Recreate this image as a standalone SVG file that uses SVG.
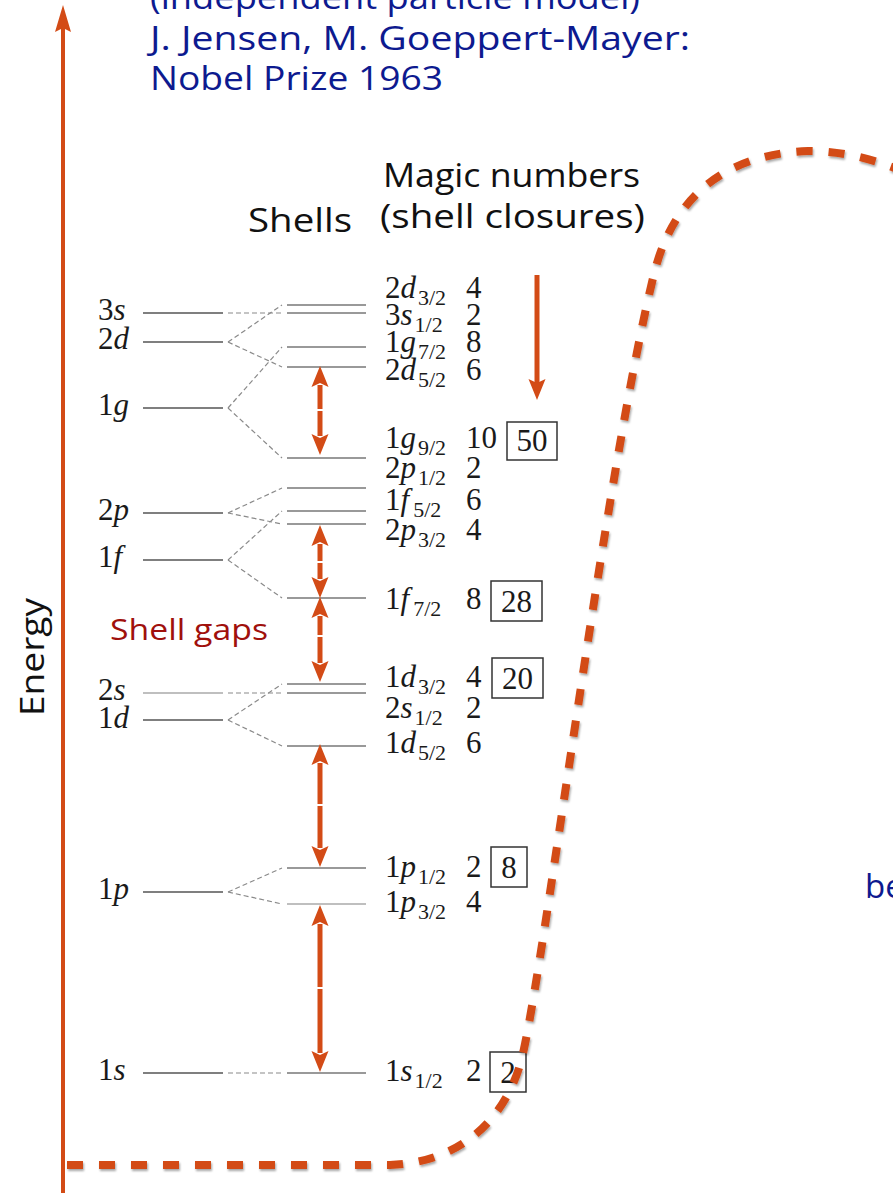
<svg xmlns="http://www.w3.org/2000/svg" width="893" height="1193" viewBox="0 0 893 1193">
<defs>
<style>
.blue{font-family:"Open Sans","DejaVu Sans",sans-serif;font-size:33px;fill:#0d1a8f}
.hdr{font-family:"Open Sans","DejaVu Sans",sans-serif;font-size:33px;fill:#111}
.gap{font-family:"Open Sans","DejaVu Sans",sans-serif;font-size:29px;fill:#a0100c}
.lab{font-family:"Liberation Serif","Times New Roman",serif;font-size:31px;fill:#1a1a1a}
.sub{font-family:"Liberation Serif","Times New Roman",serif;font-size:22px;fill:#1a1a1a}
.it{font-style:italic}
.lvl{stroke:#555;stroke-width:1.6;fill:none}
.lvr{stroke:#777;stroke-width:1.6;fill:none}
.lt{stroke:#aaa}
.cn{stroke:#8a8a8a;stroke-width:1.2;stroke-dasharray:5 3;fill:none}
.box{fill:none;stroke:#333;stroke-width:1.5}
.shaft{stroke:#d34b16;stroke-width:5;fill:none}
.head{fill:#d34b16}
.pot{stroke:#d34b16;stroke-width:8;fill:none;stroke-dasharray:16 16}
</style>
<filter id="sh" x="-5%" y="-5%" width="110%" height="110%">
<feDropShadow dx="1" dy="2" stdDeviation="1.2" flood-color="#000" flood-opacity="0.35"/>
</filter>
</defs>
<rect width="893" height="1193" fill="#fff"/>

<g id="title">
<text class="blue" x="150" y="9" textLength="490" lengthAdjust="spacingAndGlyphs">(independent particle model)</text>
<text class="blue" x="150" y="50" textLength="540" lengthAdjust="spacingAndGlyphs">J. Jensen, M. Goeppert-Mayer:</text>
<text class="blue" x="150" y="90" textLength="293" lengthAdjust="spacingAndGlyphs">Nobel Prize 1963</text>
</g>

<g id="headers">
<text class="hdr" x="383" y="187" textLength="257" lengthAdjust="spacingAndGlyphs">Magic numbers</text>
<text class="hdr" x="380" y="228" textLength="265" lengthAdjust="spacingAndGlyphs">(shell closures)</text>
<text class="hdr" x="248" y="232" textLength="104" lengthAdjust="spacingAndGlyphs">Shells</text>
</g>

<g id="axis">
<line x1="63" y1="1193" x2="63" y2="26" stroke="#d34b16" stroke-width="4"/>
<polygon class="head" points="63,5 71,32 63,28 55,32"/>
<text class="hdr" transform="translate(44,716) rotate(-90)" font-size="30" textLength="118" lengthAdjust="spacingAndGlyphs">Energy</text>
</g>

<g id="gap-label">
<text class="gap" x="110" y="640" textLength="158" lengthAdjust="spacingAndGlyphs">Shell gaps</text>
</g>

<g id="levels-left">
<g id="L3s"><line class="lvl" x1="143" y1="313" x2="223" y2="313"/><text class="lab" x="98" y="320">3<tspan class="it">s</tspan></text></g>
<g id="L2d"><line class="lvl" x1="143" y1="342" x2="223" y2="342"/><text class="lab" x="98" y="349">2<tspan class="it">d</tspan></text></g>
<g id="L1g"><line class="lvl" x1="143" y1="408" x2="223" y2="408"/><text class="lab" x="98" y="415">1<tspan class="it">g</tspan></text></g>
<g id="L2p"><line class="lvl" x1="143" y1="513" x2="223" y2="513"/><text class="lab" x="98" y="520">2<tspan class="it">p</tspan></text></g>
<g id="L1f"><line class="lvl" x1="143" y1="560" x2="223" y2="560"/><text class="lab" x="98" y="567">1<tspan class="it">f</tspan></text></g>
<g id="L2s"><line class="lvl lt" x1="143" y1="693" x2="223" y2="693"/><text class="lab" x="98" y="700">2<tspan class="it">s</tspan></text></g>
<g id="L1d"><line class="lvl" x1="143" y1="720" x2="223" y2="720"/><text class="lab" x="98" y="728">1<tspan class="it">d</tspan></text></g>
<g id="L1p"><line class="lvl" x1="143" y1="892" x2="223" y2="892"/><text class="lab" x="98" y="899">1<tspan class="it">p</tspan></text></g>
<g id="L1s"><line class="lvl" x1="143" y1="1073" x2="223" y2="1073" stroke="#777"/><text class="lab" x="98" y="1080">1<tspan class="it">s</tspan></text></g>
</g>

<g id="levels-right">
<g id="R2d32"><line class="lvr" x1="287" y1="305" x2="366" y2="305"/><text class="lab" x="385" y="298">2<tspan class="it">d</tspan><tspan class="sub" dx="2" dy="7">3/2</tspan></text><text class="lab" x="466" y="298">4</text></g>
<g id="R3s12"><line class="lvr" x1="287" y1="313" x2="366" y2="313"/><text class="lab" x="385" y="325">3<tspan class="it">s</tspan><tspan class="sub" dx="2" dy="7">1/2</tspan></text><text class="lab" x="466" y="325">2</text></g>
<g id="R1g72"><line class="lvr" x1="287" y1="347" x2="366" y2="347"/><text class="lab" x="385" y="352">1<tspan class="it">g</tspan><tspan class="sub" dx="2" dy="7">7/2</tspan></text><text class="lab" x="466" y="352">8</text></g>
<g id="R2d52"><line class="lvr" x1="287" y1="367" x2="366" y2="367"/><text class="lab" x="385" y="380">2<tspan class="it">d</tspan><tspan class="sub" dx="2" dy="7">5/2</tspan></text><text class="lab" x="466" y="380">6</text></g>
<g id="R1g92"><line class="lvr" x1="287" y1="458" x2="366" y2="458"/><text class="lab" x="385" y="448">1<tspan class="it">g</tspan><tspan class="sub" dx="2" dy="7">9/2</tspan></text><text class="lab" x="466" y="448">10</text><rect class="box" x="507" y="422" width="50" height="38"/><text class="lab" x="532" y="451" text-anchor="middle">50</text></g>
<g id="R2p12"><line class="lvr" x1="287" y1="488" x2="366" y2="488"/><text class="lab" x="385" y="478">2<tspan class="it">p</tspan><tspan class="sub" dx="2" dy="7">1/2</tspan></text><text class="lab" x="466" y="478">2</text></g>
<g id="R1f52"><line class="lvr" x1="287" y1="511" x2="366" y2="511"/><text class="lab" x="385" y="510">1<tspan class="it">f</tspan><tspan class="sub" dx="4" dy="7">5/2</tspan></text><text class="lab" x="466" y="510">6</text></g>
<g id="R2p32"><line class="lvr" x1="287" y1="524" x2="366" y2="524"/><text class="lab" x="385" y="540">2<tspan class="it">p</tspan><tspan class="sub" dx="2" dy="7">3/2</tspan></text><text class="lab" x="466" y="540">4</text></g>
<g id="R1f72"><line class="lvr" x1="287" y1="598" x2="366" y2="598"/><text class="lab" x="385" y="609">1<tspan class="it">f</tspan><tspan class="sub" dx="4" dy="7">7/2</tspan></text><text class="lab" x="466" y="609">8</text><rect class="box" x="491" y="581" width="51" height="40"/><text class="lab" x="516.5" y="612" text-anchor="middle">28</text></g>
<g id="R1d32"><line class="lvr" x1="287" y1="684" x2="366" y2="684"/><text class="lab" x="385" y="687">1<tspan class="it">d</tspan><tspan class="sub" dx="2" dy="7">3/2</tspan></text><text class="lab" x="466" y="687">4</text><rect class="box" x="492" y="658" width="51" height="40"/><text class="lab" x="517.5" y="689" text-anchor="middle">20</text></g>
<g id="R2s12"><line class="lvr" x1="287" y1="693" x2="366" y2="693"/><text class="lab" x="385" y="718">2<tspan class="it">s</tspan><tspan class="sub" dx="2" dy="7">1/2</tspan></text><text class="lab" x="466" y="718">2</text></g>
<g id="R1d52"><line class="lvr" x1="287" y1="746" x2="366" y2="746" stroke="#999"/><text class="lab" x="385" y="753">1<tspan class="it">d</tspan><tspan class="sub" dx="2" dy="7">5/2</tspan></text><text class="lab" x="466" y="753">6</text></g>
<g id="R1p12"><line class="lvr" x1="287" y1="868" x2="366" y2="868"/><text class="lab" x="385" y="877">1<tspan class="it">p</tspan><tspan class="sub" dx="2" dy="7">1/2</tspan></text><text class="lab" x="466" y="877">2</text><rect class="box" x="491" y="847" width="36" height="40"/><text class="lab" x="509" y="878" text-anchor="middle">8</text></g>
<g id="R1p32"><line class="lvr lt" x1="287" y1="904" x2="366" y2="904"/><text class="lab" x="385" y="912">1<tspan class="it">p</tspan><tspan class="sub" dx="2" dy="7">3/2</tspan></text><text class="lab" x="466" y="912">4</text></g>
<g id="R1s12"><line class="lvr" x1="287" y1="1073" x2="366" y2="1073"/><text class="lab" x="385" y="1081">1<tspan class="it">s</tspan><tspan class="sub" dx="2" dy="7">1/2</tspan></text><text class="lab" x="466" y="1081">2</text><rect class="box" x="490" y="1052" width="36" height="40"/><text class="lab" x="508" y="1083" text-anchor="middle">2</text></g>
</g>

<g id="connectors">
<g id="splits">
<line class="cn" x1="228" y1="313" x2="282" y2="313"/>
<line class="cn" x1="228" y1="342" x2="282" y2="305"/>
<line class="cn" x1="228" y1="342" x2="282" y2="367"/>
<line class="cn" x1="228" y1="408" x2="282" y2="347"/>
<line class="cn" x1="228" y1="408" x2="282" y2="458"/>
<line class="cn" x1="228" y1="513" x2="282" y2="488"/>
<line class="cn" x1="228" y1="513" x2="282" y2="524"/>
<line class="cn" x1="228" y1="560" x2="282" y2="511"/>
<line class="cn" x1="228" y1="560" x2="282" y2="598"/>
<line class="cn" x1="228" y1="693" x2="282" y2="693"/>
<line class="cn" x1="228" y1="720" x2="282" y2="684"/>
<line class="cn" x1="228" y1="720" x2="282" y2="746"/>
<line class="cn" x1="228" y1="892" x2="282" y2="868"/>
<line class="cn" x1="228" y1="892" x2="282" y2="904"/>
<line class="cn" x1="228" y1="1073" x2="282" y2="1073"/>
</g>
<g id="gap-arrows">
<line class="shaft" x1="320" y1="385" x2="320" y2="409"/><line class="shaft" x1="320" y1="411" x2="320" y2="436"/>
<polygon class="head" points="320,366 328.5,387 320,383 311.5,387"/><polygon class="head" points="320,455 328.5,434 320,438 311.5,434"/>
<line class="shaft" x1="320" y1="544" x2="320" y2="561"/><line class="shaft" x1="320" y1="563" x2="320" y2="579"/>
<polygon class="head" points="320,525 328.5,546 320,542 311.5,546"/><polygon class="head" points="320,598 328.5,577 320,581 311.5,577"/>
<line class="shaft" x1="320" y1="616" x2="320" y2="635"/><line class="shaft" x1="320" y1="637" x2="320" y2="663"/>
<polygon class="head" points="320,597 328.5,618 320,614 311.5,618"/><polygon class="head" points="320,682 328.5,661 320,665 311.5,661"/>
<line class="shaft" x1="320" y1="763" x2="320" y2="804"/><line class="shaft" x1="320" y1="806" x2="320" y2="848"/>
<polygon class="head" points="320,744 328.5,765 320,761 311.5,765"/><polygon class="head" points="320,867 328.5,846 320,850 311.5,846"/>
<line class="shaft" x1="320" y1="924" x2="320" y2="987"/><line class="shaft" x1="320" y1="989" x2="320" y2="1053"/>
<polygon class="head" points="320,905 328.5,926 320,922 311.5,926"/><polygon class="head" points="320,1072 328.5,1051 320,1055 311.5,1051"/>
</g>
<g id="fill-arrow">
<line class="shaft" x1="537" y1="275" x2="537" y2="384"/>
<polygon class="head" points="537,400 545.5,379 537,383 528.5,379"/>
</g>
</g>

<g id="potential">
<path class="pot" filter="url(#sh)" d="M 67 1165 L 390 1165 C 450 1163 500 1130 520 1065 C 540 1000 605 470 655 270 C 667 225 700 155 808 151 C 840 151 870 158 900 170"/>
</g>

<g id="side-label">
<text class="blue" x="865" y="898">be</text>
</g>
</svg>
